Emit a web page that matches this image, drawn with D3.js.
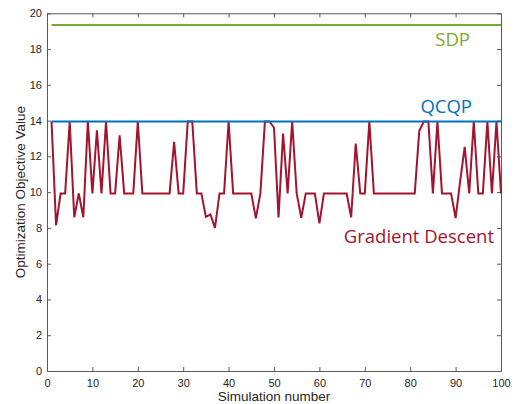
<!DOCTYPE html>
<html>
<head>
<meta charset="utf-8">
<script src="https://cdn.jsdelivr.net/npm/d3@7/dist/d3.min.js"></script>
<style>
  html, body { margin: 0; padding: 0; background: #ffffff; }
  svg { display: block; }
</style>
</head>
<body>
<div id="chart"></div>
<script>
// ---------- data ----------
const simulationNumbers = d3.range(1, 101);
const gradientDescent = [
  13.95, 8.15, 9.93, 9.93, 13.95, 8.6, 9.93, 8.6, 13.95, 9.93,
  13.46, 9.93, 13.95, 9.93, 9.93, 13.18, 9.93, 9.93, 9.93, 13.95,
  9.93, 9.93, 9.93, 9.93, 9.93, 9.93, 9.93, 12.81, 9.93, 9.93,
  13.95, 13.95, 9.93, 9.93, 8.62, 8.75, 8.0, 9.93, 9.93, 13.95,
  9.93, 9.93, 9.93, 9.93, 9.93, 8.53, 9.93, 13.95, 13.95, 13.6,
  8.59, 13.28, 9.93, 13.95, 9.93, 8.57, 9.93, 9.93, 9.93, 8.25,
  9.93, 9.93, 9.93, 9.93, 9.93, 9.93, 8.6, 12.72, 9.93, 9.93,
  13.95, 9.93, 9.93, 9.93, 9.93, 9.93, 9.93, 9.93, 9.93, 9.93,
  9.93, 13.43, 13.95, 13.95, 9.93, 13.95, 9.93, 9.93, 9.93, 8.55,
  10.6, 12.53, 9.93, 13.95, 9.93, 9.93, 13.95, 9.93, 13.95, 9.93
];
const qcqpValue = [13.95];
const sdpValue = [19.35];
const xTicks = [0, 10, 20, 30, 40, 50, 60, 70, 80, 90, 100];
const yTicks = [0, 2, 4, 6, 8, 10, 12, 14, 16, 18, 20];
const seriesLabels = ["SDP", "QCQP", "Gradient Descent"];

// ---------- layout ----------
const W = 519, H = 404;
const mLeft = 47, mRight = 501, mTop = 13.3, mBottom = 371;
const axisColor = "#5a5a5a";
const textColor = "#262626";
const colGD = "#A2142F", colQ = "#0072BD", colS = "#77AC30";

const svg = d3.select("#chart").append("svg").attr("width", W).attr("height", H);

const x = d3.scaleLinear().domain([0, 100]).range([mLeft, mRight]);
const y = d3.scaleLinear().domain([0, 20]).range([mBottom, mTop]);

const tickFont = "Liberation Sans, Arial, sans-serif";

// axes (ticks inward, box on)
const tl = 4;
const gx = svg.append("g").attr("transform", `translate(0,${mBottom})`)
  .call(d3.axisBottom(x).tickValues(xTicks).tickSizeInner(-tl).tickSizeOuter(0).tickPadding(8));
const gxTop = svg.append("g").attr("transform", `translate(0,${mTop})`)
  .call(d3.axisTop(x).tickValues(xTicks).tickSizeInner(-tl).tickSizeOuter(0).tickFormat(""));
const gy = svg.append("g").attr("transform", `translate(${mLeft},0)`)
  .call(d3.axisLeft(y).tickValues(yTicks).tickSizeInner(-tl).tickSizeOuter(0).tickPadding(5));
const gyR = svg.append("g").attr("transform", `translate(${mRight},0)`)
  .call(d3.axisRight(y).tickValues(yTicks).tickSizeInner(-tl).tickSizeOuter(0).tickFormat(""));

[gx, gxTop, gy, gyR].forEach(g => {
  g.select(".domain").attr("stroke", axisColor).attr("stroke-width", 1);
  g.selectAll(".tick line").attr("stroke", axisColor).attr("stroke-width", 1);
  g.selectAll(".tick text").attr("fill", textColor)
    .style("font-family", tickFont).style("font-size", "11px");
});

// series
const line = d3.line().x((d, i) => x(simulationNumbers[i])).y(d => y(d));

svg.append("path").datum(gradientDescent)
  .attr("d", line).attr("fill", "none")
  .attr("stroke", colGD).attr("stroke-width", 2).attr("stroke-linejoin", "miter");

const flat = v => simulationNumbers.map(() => v);
svg.append("path").datum(flat(qcqpValue[0]))
  .attr("d", line).attr("fill", "none").attr("stroke", colQ).attr("stroke-width", 2);
svg.append("path").datum(flat(sdpValue[0]))
  .attr("d", line).attr("fill", "none").attr("stroke", colS).attr("stroke-width", 2);

// series labels
const labelFont = "Open Sans, Lato, sans-serif";
const labelData = [
  { t: seriesLabels[0], c: colS, x: 470, y: 46 },
  { t: seriesLabels[1], c: colQ, x: 472, y: 113 },
  { t: seriesLabels[2], c: colGD, x: 494, y: 243 }
];
svg.selectAll("text.lbl").data(labelData).enter().append("text")
  .attr("class", "lbl")
  .attr("x", d => d.x).attr("y", d => d.y)
  .attr("text-anchor", "end")
  .attr("fill", d => d.c)
  .style("font-family", labelFont).style("font-size", "18.5px")
  .text(d => d.t);

// axis titles
svg.append("text")
  .attr("x", (mLeft + mRight) / 2).attr("y", 401)
  .attr("text-anchor", "middle").attr("fill", textColor)
  .style("font-family", tickFont).style("font-size", "13.5px")
  .text("Simulation number");

svg.append("text")
  .attr("transform", `translate(25,${(mTop + mBottom) / 2}) rotate(-90)`)
  .attr("text-anchor", "middle").attr("fill", textColor)
  .style("font-family", tickFont).style("font-size", "13.5px")
  .text("Optimization Objective Value");
</script>
</body>
</html>
